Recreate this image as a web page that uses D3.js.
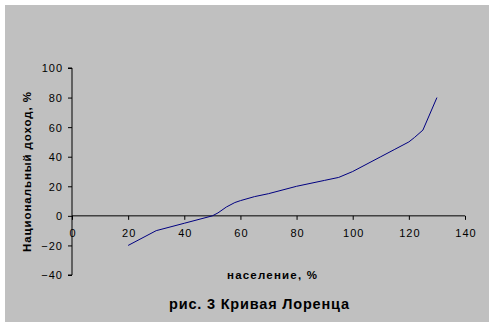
<!DOCTYPE html>
<html>
<head>
<meta charset="utf-8">
<script src="https://cdn.jsdelivr.net/npm/d3@7"></script>
<style>
  body { margin: 0; background: #ffffff; }
  svg { display: block; }
  text { font-family: "Liberation Sans", Arial, sans-serif; fill: #000; }
</style>
</head>
<body>
<svg id="chart" width="492" height="325"></svg>
<script>
const population = [20, 30, 40, 50, 52, 55, 58, 60, 65, 70, 80, 90, 95, 100, 110, 115, 120, 122, 125, 130];
const income     = [-20, -10, -5, 0, 2, 6, 9, 10.3, 13, 15, 20, 24, 26, 30, 40, 45, 50, 53, 58, 80];
const xTicks = [0, 20, 40, 60, 80, 100, 120, 140];
const yTicks = [-40, -20, 0, 20, 40, 60, 80, 100];
const title = "рис. 3 Кривая Лоренца";
const xTitle = "население, %";
const yTitle = "Национальный доход, %";

const svg = d3.select("#chart");
svg.append("rect").attr("x", 5).attr("y", 5).attr("width", 484).attr("height", 317).attr("fill", "#c0c0c0");

const x = d3.scaleLinear().domain([0, 140]).range([72, 465]);
const y = d3.scaleLinear().domain([-40, 100]).range([275, 68]);

// Y axis
const yAxis = svg.append("g").attr("transform", `translate(${x(0)},0)`)
  .call(d3.axisLeft(y).tickValues(yTicks).tickSize(4).tickPadding(5).tickFormat(d3.format("d")));
yAxis.select(".domain").attr("stroke", "#000").attr("d", `M-4,${y(100)}H0V${y(-40)}H-4`);
yAxis.selectAll("text").attr("font-size", 11).attr("font-family", "Liberation Sans, Arial, sans-serif")
  .attr("fill", "#000").attr("dy", "0.35em").attr("letter-spacing", "1px");

// X axis
const xAxis = svg.append("g").attr("transform", `translate(0,${y(0)})`)
  .call(d3.axisBottom(x).tickValues(xTicks).tickSize(4).tickPadding(9).tickFormat(d3.format("d")));
xAxis.select(".domain").attr("stroke", "#000").attr("d", `M${x(0)},0H${x(140)}`);
xAxis.selectAll("text").attr("font-size", 11).attr("font-family", "Liberation Sans, Arial, sans-serif")
  .attr("fill", "#000").attr("letter-spacing", "1px").attr("dx", "0.5");

// Line
const pts = population.map((p, i) => [p, income[i]]);
svg.append("path")
  .datum(pts)
  .attr("fill", "none")
  .attr("stroke", "#000080")
  .attr("stroke-width", 1)
  .attr("d", d3.line().x(d => x(d[0])).y(d => y(d[1])));

// Titles
svg.append("text").attr("x", 272).attr("y", 279).attr("text-anchor", "middle")
  .attr("font-size", 11.5).attr("font-weight", "bold")
  .attr("textLength", 90).attr("lengthAdjust", "spacing").text(xTitle);
svg.append("text").attr("transform", "translate(31,172) rotate(-90)").attr("text-anchor", "middle")
  .attr("font-size", 11.5).attr("font-weight", "bold")
  .attr("textLength", 160).attr("lengthAdjust", "spacing").text(yTitle);
svg.append("text").attr("x", 259).attr("y", 309).attr("text-anchor", "middle")
  .attr("font-size", 14.5).attr("font-weight", "bold")
  .attr("textLength", 180).attr("lengthAdjust", "spacing").text(title);
</script>
</body>
</html>
